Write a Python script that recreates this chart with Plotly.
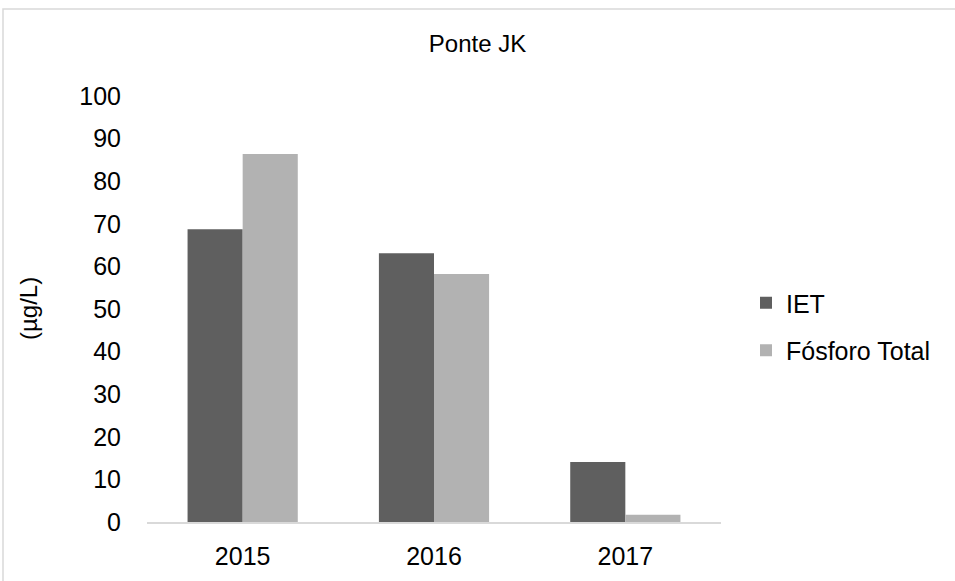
import plotly.graph_objects as go

# Data
years = ["2015", "2016", "2017"]
iet = [68.7, 63.1, 14.1]
fosforo_total = [86.4, 58.2, 1.7]
series_names = ["IET", "Fósforo Total"]
y_ticks = list(range(0, 101, 10))

W, H = 955, 581
ML, MR, MT, MB = 147, 234, 96, 59
FONT = "Liberation Sans, Arial, sans-serif"

fig = go.Figure()
fig.add_trace(go.Bar(x=years, y=iet, name=series_names[0], legendgroup="a",
                     marker=dict(color="#5f5f5f", line=dict(width=0))))
fig.add_trace(go.Bar(x=years, y=fosforo_total, name=series_names[1], legendgroup="b",
                     marker=dict(color="#b2b2b2", line=dict(width=0))))

pw = W - ML - MR
ph = H - MT - MB

fig.update_layout(
    width=W, height=H,
    margin=dict(l=ML, r=MR, t=MT, b=MB, pad=0),
    paper_bgcolor="white", plot_bgcolor="white",
    font=dict(family=FONT, size=25, color="#000000"),
    barmode="group", bargap=0.424, bargroupgap=0,
    title=dict(text="Ponte JK", x=0.5, xref="container", xanchor="center",
               y=1 - 44 / H, yanchor="middle",
               font=dict(family=FONT, size=24, color="#000000")),
    showlegend=True,
    legend=dict(x=(746 - ML) / pw, xanchor="left",
                y=(H - MB - 280) / ph, yanchor="top",
                font=dict(family=FONT, size=25, color="#000000"),
                tracegroupgap=12, bgcolor="rgba(0,0,0,0)"),
    xaxis=dict(showgrid=False, zeroline=False, showline=True,
               linecolor="#d9d9d9", linewidth=2, ticks="",
               ticklabelstandoff=11,
               tickfont=dict(family=FONT, size=25, color="#000000")),
    yaxis=dict(range=[0, 100], tickvals=y_ticks, showgrid=False,
               zeroline=False, showline=False, ticks="",
               ticklabelstandoff=25,
               tickfont=dict(family=FONT, size=25, color="#000000")),
    annotations=[dict(text="(µg/L)", xref="paper", yref="paper",
                      x=(28 - ML) / pw, y=0.5, xanchor="center", yanchor="middle",
                      textangle=-90, showarrow=False,
                      font=dict(family=FONT, size=24, color="#000000"))],
    shapes=[dict(type="rect", xref="paper", yref="paper",
                 x0=(3 - ML) / pw, x1=(W + 20 - ML) / pw,
                 y0=-(MB + 20) / ph, y1=(H - MB - 9) / ph,
                 line=dict(color="#d9d9d9", width=1.5),
                 fillcolor="rgba(0,0,0,0)", layer="below")],
)

fig.write_html("out.html")
